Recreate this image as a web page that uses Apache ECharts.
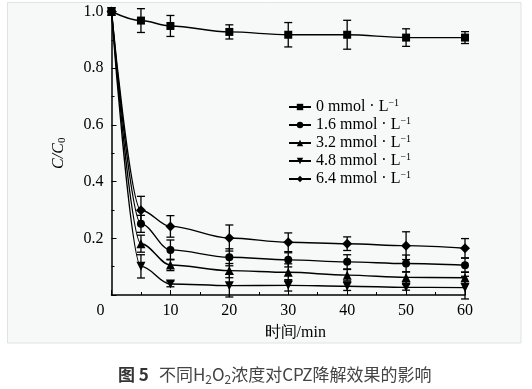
<!DOCTYPE html>
<html>
<head>
<meta charset="utf-8">
<script src="https://cdn.jsdelivr.net/npm/echarts@6/dist/echarts.min.js"></script>
<style>
html,body{margin:0;padding:0;background:#fff;}
#c{width:532px;height:389px;}
</style>
</head>
<body>
<div id="c"></div>
<script>
// ---- data ----
var time = [0, 5, 10, 20, 30, 40, 50, 60];
var xTicks = [0, 10, 20, 30, 40, 50, 60];
var yTicks = [0.2, 0.4, 0.6, 0.8, 1.0];
var seriesNames = ['0 mmol · L', '1.6 mmol · L', '3.2 mmol · L', '4.8 mmol · L', '6.4 mmol · L'];
var c0  = [1.0, 0.968, 0.949, 0.928, 0.918, 0.918, 0.908, 0.908];
var e0  = [0, 0.042, 0.037, 0.025, 0.043, 0.051, 0.031, 0.021];
var c16 = [1.0, 0.251, 0.159, 0.133, 0.124, 0.117, 0.111, 0.105];
var e16 = [0, 0.030, 0.035, 0.030, 0.025, 0.025, 0.030, 0.025];
var c32 = [1.0, 0.181, 0.106, 0.086, 0.080, 0.070, 0.062, 0.061];
var e32 = [0, 0.030, 0.020, 0.025, 0.030, 0.020, 0.020, 0.020];
var c48 = [1.0, 0.101, 0.039, 0.033, 0.034, 0.031, 0.027, 0.026];
var e48 = [0, 0.041, 0.010, 0.040, 0.020, 0.015, 0.010, 0.040];
var c64 = [1.0, 0.299, 0.242, 0.201, 0.186, 0.181, 0.174, 0.165];
var e64 = [0, 0.049, 0.038, 0.046, 0.033, 0.024, 0.049, 0.034];

var values = [c0, c16, c32, c48, c64];
var errors = [e0, e16, e32, e48, e64];
var symbols = ['rect', 'circle', 'triangle', 'triangle', 'diamond'];
var rotates = [0, 0, 0, 180, 0];
var sizes = [8, 8, 9, 9, 10];

var serif = '"Liberation Serif", "Times New Roman", serif';
var sans = '"Noto Sans CJK SC", "Noto Sans", sans-serif';
var chart = echarts.init(document.getElementById('c'), null, {renderer: 'canvas'});

var series = [];
values.forEach(function (vals, i) {
  series.push({
    name: seriesNames[i],
    type: 'line',
    data: time.map(function (t, j) { return [t, vals[j]]; }),
    smooth: 0.35,
    smoothMonotone: 'x',
    symbol: symbols[i],
    symbolRotate: rotates[i],
    symbolSize: sizes[i],
    showAllSymbol: true,
    itemStyle: {color: '#000'},
    lineStyle: {color: '#000', width: 1.4},
    z: 3,
    animation: false
  });
  series.push({
    type: 'custom',
    data: time.map(function (t, j) { return [t, vals[j], errors[i][j]]; }),
    renderItem: function (params, api) {
      var x = api.value(0), y = api.value(1), e = api.value(2);
      if (!e) return null;
      var top = api.coord([x, y + e]);
      var bot = api.coord([x, y - e]);
      var hw = 4;
      var st = {stroke: '#000', lineWidth: 1.3};
      return {
        type: 'group',
        children: [
          {type: 'line', shape: {x1: top[0], y1: top[1], x2: bot[0], y2: bot[1]}, style: st},
          {type: 'line', shape: {x1: top[0] - hw, y1: top[1], x2: top[0] + hw, y2: top[1]}, style: st},
          {type: 'line', shape: {x1: bot[0] - hw, y1: bot[1], x2: bot[0] + hw, y2: bot[1]}, style: st}
        ]
      };
    },
    clip: false,
    z: 2,
    animation: false
  });
});

var option = {
  backgroundColor: '#fff',
  animation: false,
  graphic: [
    {type: 'rect', shape: {x: 7.5, y: 2.5, width: 513.5, height: 340.5},
     style: {fill: '#f7f8f8', stroke: '#dde4e4', lineWidth: 1}, z: -10, silent: true},
    {type: 'text', left: 118, top: 366, z: 10,
     style: {
       text: '{b|图 5}   {t|不同H}{s|2}{t|O}{s|2}{t|浓度对CPZ降解效果的影响}',
       rich: {
         b: {fontFamily: sans, fontSize: 17, fontWeight: 'bold', fill: '#333', lineHeight: 21},
         t: {fontFamily: sans, fontSize: 17, fill: '#444', lineHeight: 21},
         s: {fontFamily: sans, fontSize: 12, fill: '#444', lineHeight: 13, verticalAlign: 'bottom'}
       }
     }}
  ],
  grid: {left: 111.5, right: 67, top: 11.5, bottom: 94, containLabel: false},
  legend: {
    orient: 'vertical',
    left: 283,
    top: 93,
    itemWidth: 22,
    itemHeight: 8,
    itemGap: 1,
    data: seriesNames,
    formatter: function (n) { return '{a|' + n + '}{sup|−1}'; },
    textStyle: {
      color: '#000',
      rich: {
        a: {fontFamily: serif, fontSize: 16, lineHeight: 18, color: '#000'},
        sup: {fontFamily: serif, fontSize: 10, lineHeight: 12, verticalAlign: 'top', color: '#000'}
      }
    }
  },
  xAxis: {
    type: 'value',
    min: 0, max: 60, interval: 10,
    name: '时间/min',
    nameLocation: 'middle',
    nameGap: 30,
    nameTextStyle: {fontFamily: serif, fontSize: 16, color: '#000', padding: [0, 0, 0, 14]},
    axisLine: {show: true, onZero: false, lineStyle: {color: '#000', width: 1.5}},
    axisTick: {show: true, inside: true, length: 5, lineStyle: {color: '#000', width: 1}},
    minorTick: {show: true, splitNumber: 2, length: 3, lineStyle: {color: '#000', width: 1}},
    splitLine: {show: false},
    axisLabel: {
      fontFamily: serif, fontSize: 16, color: '#000', margin: 8,
      formatter: function (v) { return v === 0 ? '{z|0}' : String(v); },
      rich: {z: {fontFamily: serif, fontSize: 16, color: '#000', padding: [0, 22, 0, 0]}}
    }
  },
  yAxis: {
    type: 'value',
    min: 0, max: 1.0, interval: 0.2,
    name: '{i|C/C}{s|0}',
    nameLocation: 'middle',
    nameGap: 44,
    nameRotate: 90,
    nameTextStyle: {
      rich: {
        i: {fontFamily: serif, fontSize: 16, fontStyle: 'italic', color: '#000', lineHeight: 18},
        s: {fontFamily: serif, fontSize: 11, color: '#000', lineHeight: 11, verticalAlign: 'bottom'}
      }
    },
    axisLine: {show: true, onZero: false, lineStyle: {color: '#000', width: 1.5}},
    axisTick: {show: true, inside: true, length: 5, lineStyle: {color: '#000', width: 1}},
    minorTick: {show: true, splitNumber: 2, length: 3, lineStyle: {color: '#000', width: 1}},
    splitLine: {show: false},
    axisLabel: {
      fontFamily: serif, fontSize: 16, color: '#000', margin: 8,
      formatter: function (v) { return v === 0 ? '' : v.toFixed(1); }
    }
  },
  series: series
};
chart.setOption(option);
</script>
</body>
</html>
